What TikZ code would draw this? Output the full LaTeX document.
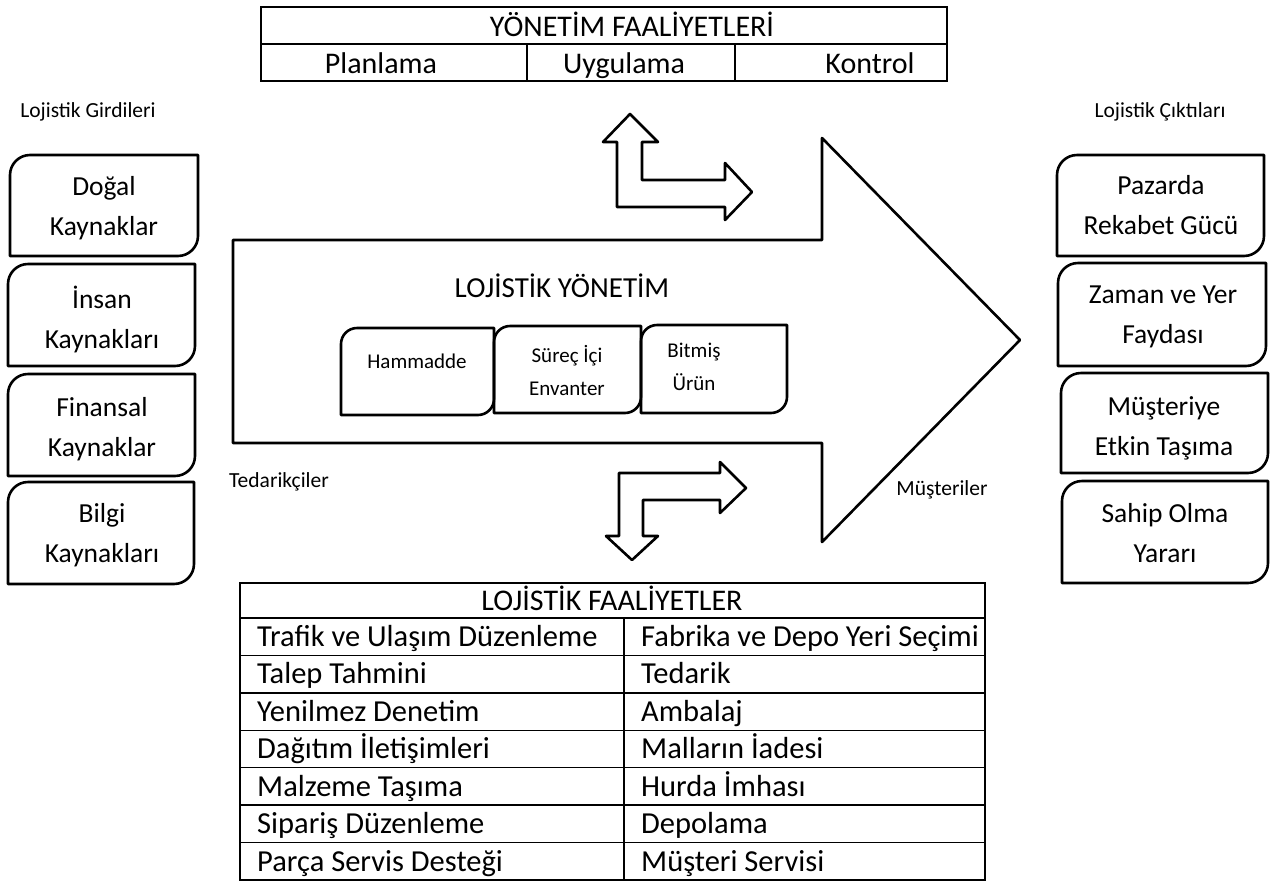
\documentclass[tikz,border=0pt]{standalone}
\usepackage{fontspec}
\setmainfont{Carlito}
\newcommand\dbox[5]{%
  \draw[boxline] ({#1},{#4}) -- ({#1},{#2+#5}) .. controls ({#1},{#2+0.45*#5}) and ({#1+0.45*#5},{#2}) .. ({#1+#5},{#2}) -- ({#3},{#2}) -- ({#3},{#4-#5}) .. controls ({#3},{#4-0.45*#5}) and ({#3-0.45*#5},{#4}) .. ({#3-#5},{#4}) -- cycle;}
\begin{document}
\begin{tikzpicture}[x=1pt,y=-1pt,
  boxline/.style={line width=2.6pt, line join=round},
  tbl/.style={line width=1.5pt},
  txt/.style={inner sep=0pt, align=center},
  multi/.style={txt, execute at begin node=\strut, execute at end node=\strut},
  boxtxt/.style={multi, font=\fontsize{27.5}{40}\selectfont},
  smalltxt/.style={multi, font=\fontsize{21}{33}\selectfont},
  lbl/.style={inner sep=0pt, anchor=base, font=\fontsize{21.5}{24}\selectfont},
  tabtxt/.style={inner sep=0pt, anchor=base west, font=\fontsize{30.5}{36}\selectfont},
  toptxt/.style={inner sep=0pt, anchor=base, font=\fontsize{30}{36}\selectfont}]
\useasboundingbox (0,0) rectangle (1272,884);
\fill[white] (0,0) rectangle (1272,884);

% top table
\draw[tbl] (261,7) rectangle (947,81);
\draw[tbl] (261,44) -- (947,44);
\draw[tbl] (527,44) -- (527,81);
\draw[tbl] (735,44) -- (735,81);
\node[toptxt] (ytitle) at (632,36) {YÖNETİM FAALİYETLERİ};
\node[toptxt] (plan) at (381,73) {Planlama};
\node[toptxt] (uyg) at (624,73) {Uygulama};
\node[toptxt] (kont) at (870,73) {Kontrol};

% labels
\node[lbl] (girdi) at (88,117) {Lojistik Girdileri};
\node[lbl] (cikti) at (1160,117) {Lojistik Çıktıları};
\node[lbl] (tedar) at (279,487) {Tedarikçiler};
\node[lbl] (muster) at (942,495) {Müşteriler};

% left boxes
\dbox{10}{155}{198}{256}{20}
\node[boxtxt] (in1) at (104,212) {Doğal\\Kaynaklar};
\dbox{8}{264}{195}{366}{20}
\node[boxtxt] (in2) at (102,323) {İnsan\\Kaynakları};
\dbox{8}{374}{195}{476}{20}
\node[boxtxt] (in3) at (102,433) {Finansal\\Kaynaklar};
\dbox{8}{482}{194}{584}{20}
\node[boxtxt] (in4) at (102,539) {Bilgi\\Kaynakları};

% right boxes
\dbox{1057}{155}{1264}{256}{20}
\node[boxtxt] (out1) at (1161,211) {Pazarda\\Rekabet Gücü};
\dbox{1058}{263}{1266}{366}{20}
\node[boxtxt] (out2) at (1163,321) {Zaman ve Yer\\Faydası};
\dbox{1061}{373}{1268}{473}{20}
\node[boxtxt] (out3) at (1164,432) {Müşteriye\\Etkin Taşıma};
\dbox{1062}{481}{1268}{583}{20}
\node[boxtxt] (out4) at (1165,539) {Sahip Olma\\Yararı};

% big arrow
\draw[boxline] (233,240) -- (822,240) -- (822,138) -- (1020,340) -- (822,542) -- (822,443) -- (233,443) -- cycle;
\node[inner sep=0pt, anchor=base, font=\fontsize{29}{34}\selectfont] (lyon) at (562,297) {LOJİSTİK YÖNETİM};

% small boxes
\dbox{341}{328}{494}{415}{16}
\node[inner sep=0pt, anchor=base, font=\fontsize{21}{33}\selectfont] (ham) at (417,368) {Hammadde};
\dbox{494}{326}{641}{413}{16}
\node[smalltxt] (surec) at (567,375) {Süreç İçi\\Envanter};
\dbox{641}{325}{787}{413}{16}
\node[smalltxt] (bitmis) at (694,372) {Bitmiş\\Ürün};

% bent arrows
\draw[boxline] (630,114) -- (658,142) -- (642,142) -- (642,180) -- (725,180) -- (725,163) -- (752,192) -- (725,220) -- (725,207) -- (617,207) -- (617,142) -- (603,142) -- cycle;
\draw[boxline] (619,473) -- (720,473) -- (720,462) -- (746,488) -- (720,513) -- (720,500) -- (643,500) -- (643,536) -- (658,536) -- (632,560) -- (606,536) -- (619,536) -- cycle;

% bottom table
\draw[tbl] (240,583) rectangle (985,880);
\foreach \k in {0,...,6} {\draw[tbl] (240,{618+37.43*\k}) -- (985,{618+37.43*\k});}
\draw[tbl] (624,618) -- (624,880);
\node[toptxt] (ltitle) at (612,610) {LOJİSTİK FAALİYETLER};
\node[tabtxt] (l1) at (257,646) {Trafik ve Ulaşım Düzenleme};
\node[tabtxt] (l2) at (257,683) {Talep Tahmini};
\node[tabtxt] (l3) at (257,721) {Yenilmez Denetim};
\node[tabtxt] (l4) at (257,758) {Dağıtım İletişimleri};
\node[tabtxt] (l5) at (257,796) {Malzeme Taşıma};
\node[tabtxt] (l6) at (257,833) {Sipariş Düzenleme};
\node[tabtxt] (l7) at (257,871) {Parça Servis Desteği};
\node[tabtxt] (r1) at (641,646) {Fabrika ve Depo Yeri Seçimi};
\node[tabtxt] (r2) at (641,683) {Tedarik};
\node[tabtxt] (r3) at (641,721) {Ambalaj};
\node[tabtxt] (r4) at (641,758) {Malların İadesi};
\node[tabtxt] (r5) at (641,796) {Hurda İmhası};
\node[tabtxt] (r6) at (641,833) {Depolama};
\node[tabtxt] (r7) at (641,871) {Müşteri Servisi};
\end{tikzpicture}
\end{document}
